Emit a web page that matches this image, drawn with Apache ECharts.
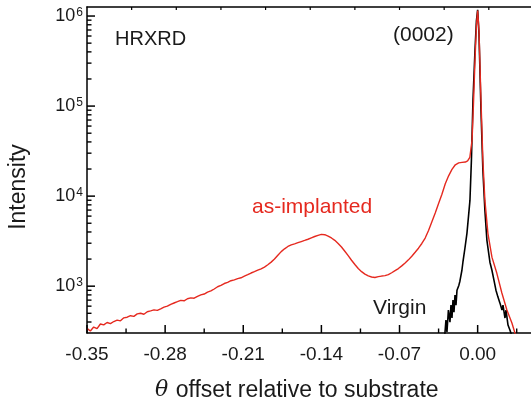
<!DOCTYPE html>
<html>
<head>
<meta charset="utf-8">
<script src="https://cdn.jsdelivr.net/npm/echarts@6/dist/echarts.min.js"></script>
<style>html,body{margin:0;padding:0;background:#fff;}#c{width:531px;height:407px;}</style>
</head>
<body>
<div id="c"></div>
<script>
// ---- data ----
const implantedX = [-0.350,-0.347,-0.344,-0.341,-0.338,-0.335,-0.332,-0.329,-0.326,-0.323,-0.320,-0.317,-0.314,-0.311,-0.308,-0.305,-0.302,-0.299,-0.296,-0.293,-0.290,-0.287,-0.284,-0.281,-0.278,-0.275,-0.272,-0.269,-0.266,-0.263,-0.260,-0.257,-0.254,-0.251,-0.248,-0.245,-0.242,-0.239,-0.236,-0.233,-0.230,-0.227,-0.224,-0.221,-0.218,-0.215,-0.212,-0.209,-0.206,-0.203,-0.200,-0.197,-0.194,-0.191,-0.188,-0.185,-0.182,-0.179,-0.176,-0.173,-0.170,-0.167,-0.164,-0.161,-0.158,-0.155,-0.152,-0.149,-0.146,-0.143,-0.140,-0.137,-0.134,-0.131,-0.128,-0.125,-0.122,-0.119,-0.116,-0.113,-0.110,-0.107,-0.104,-0.101,-0.098,-0.095,-0.092,-0.089,-0.086,-0.083,-0.080,-0.077,-0.074,-0.071,-0.068,-0.065,-0.062,-0.059,-0.056,-0.053,-0.050,-0.047,-0.044,-0.041,-0.038,-0.035,-0.032,-0.029,-0.026,-0.023,-0.020,-0.017,-0.014,-0.011,-0.009,-0.007,-0.005,-0.0038,-0.0024,-0.0011,0.0000,0.0012,0.0030,0.0047,0.0065,0.0092,0.0128,0.0172,0.0217,0.0262,0.0307,0.0334,0.0360];
const implantedY = [340,318,352,338,380,372,395,383,405,420,412,445,452,470,462,492,500,488,520,532,545,538,560,585,600,628,650,672,695,688,725,742,735,770,800,818,860,885,930,985,1020,1070,1100,1150,1175,1215,1240,1290,1340,1400,1450,1505,1560,1630,1730,1850,2000,2200,2420,2600,2760,2870,2950,3040,3130,3220,3320,3440,3560,3670,3760,3730,3600,3430,3230,2980,2720,2440,2180,1940,1740,1570,1450,1360,1300,1265,1250,1275,1295,1310,1345,1410,1490,1570,1680,1810,1960,2150,2380,2640,2980,3420,4150,5200,6500,8300,10500,13700,16800,19800,22300,23400,23700,23900,24600,27000,42000,101000,318000,776000,1150000,684000,114800,24800,8960,3860,2100,1390,840,543,390,302,250];

const virginX = [-0.0300,-0.0293,-0.0284,-0.0275,-0.0262,-0.0248,-0.0239,-0.0230,-0.0221,-0.0212,-0.0203,-0.0194,-0.0185,-0.0176,-0.0168,-0.0159,-0.0141,-0.0132,-0.0114,-0.0096,-0.0082,-0.0069,-0.0056,-0.0042,-0.0024,-0.0011,0.0000,0.0012,0.0030,0.0047,0.0065,0.0083,0.0110,0.0128,0.0146,0.0164,0.0182,0.0200,0.0218,0.0227,0.0245,0.0254,0.0272,0.0289,0.0307];
const virginY = [270,302,420,310,543,399,616,443,700,515,795,616,903,950,1026,1136,1503,1845,2637,3863,5960,8960,24800,114800,410000,883000,1170000,634000,88900,19300,6950,3230,1845,1503,1165,903,756,648,543,616,443,543,370,326,279];

const xTickLabels = ['-0.35','-0.28','-0.21','-0.14','-0.07','0.00'];
const xMajorTicks = [-0.35,-0.28,-0.21,-0.14,-0.07,0.00];
const xMinorTicks = [-0.315,-0.245,-0.175,-0.105,-0.035,0.035];
const topTicks = [-0.31,-0.27,-0.23,-0.19,-0.15,-0.11,-0.07,-0.03,0.01];
const yMajorTicks = [1000,10000,100000,1000000];
const yMinorTicks = [400,500,600,700,800,900,2000,3000,4000,5000,6000,7000,8000,9000,20000,30000,40000,50000,60000,70000,80000,90000,200000,300000,400000,500000,600000,700000,800000,900000];

const X_MIN = -0.35, X_MAX = 0.0478, Y_MIN = 302, Y_MAX = 1.26e6;
const FONT = "'Liberation Sans', Arial, Helvetica, sans-serif";

const chart = echarts.init(document.getElementById('c'), null, {renderer: 'canvas'});
const pairs = (xs, ys) => xs.map((x, i) => [x, ys[i]]);

// tick marks drawn through the axes' scales (api.coord)
function tickSeries(values, kind, len, width) {
  return {
    type: 'custom', silent: true, xAxisIndex: 0, yAxisIndex: 0, z: 5,
    data: values.map(v => kind === 'y' ? [X_MIN, v] : [v, kind === 'top' ? Y_MAX : Y_MIN]),
    renderItem: function (params, api) {
      const p = api.coord([api.value(0), api.value(1)]);
      let shape;
      if (kind === 'y') shape = {x1: p[0], y1: p[1], x2: p[0] + len, y2: p[1]};
      else if (kind === 'top') shape = {x1: p[0], y1: p[1], x2: p[0], y2: p[1] + len};
      else shape = {x1: p[0], y1: p[1], x2: p[0], y2: p[1] - len};
      return {type: 'line', shape: shape, style: {stroke: '#000', lineWidth: width}};
    }
  };
}

chart.setOption({
  animation: false,
  backgroundColor: '#fff',
  grid: {left: 87, right: 0, top: 7, bottom: 74},
  xAxis: [{
    type: 'value', min: X_MIN, max: X_MAX, interval: 0.07,
    axisLine: {show: true, onZero: false, lineStyle: {color: '#000', width: 1.5}},
    axisTick: {show: false},
    splitLine: {show: false},
    axisLabel: {
      color: '#1a1a1a', fontSize: 19, fontFamily: FONT, margin: 12,
      showMaxLabel: false,
      formatter: function (v) {
        const idx = Math.round((v - X_MIN) / 0.07);
        return Math.abs(v - (X_MIN + idx * 0.07)) < 1e-6 && xTickLabels[idx] !== undefined ? xTickLabels[idx] : '';
      }
    }
  }, {
    type: 'value', position: 'top', min: X_MIN, max: X_MAX,
    axisLine: {show: true, onZero: false, lineStyle: {color: '#000', width: 1.5}},
    axisTick: {show: false}, axisLabel: {show: false}, splitLine: {show: false}
  }],
  yAxis: {
    type: 'log', min: Y_MIN, max: Y_MAX,
    axisLine: {show: true, onZero: false, lineStyle: {color: '#000', width: 1.5}},
    axisTick: {show: false},
    splitLine: {show: false},
    axisLabel: {
      margin: 4, fontFamily: FONT,
      showMinLabel: false, showMaxLabel: false,
      formatter: function (v) {
        const e = Math.log10(v);
        if (Math.abs(e - Math.round(e)) > 1e-6) return '';
        return '{b|10}{s|' + Math.round(e) + '}';
      },
      rich: {
        b: {fontSize: 18, fontFamily: FONT, color: '#1a1a1a'},
        s: {fontSize: 12, fontFamily: FONT, color: '#1a1a1a', verticalAlign: 'top', padding: [0, 0, 0, 1]}
      }
    }
  },
  series: [
    tickSeries(xMajorTicks, 'x', 8, 1.5),
    tickSeries(xMinorTicks, 'x', 4.5, 1.4),
    tickSeries(topTicks, 'top', 3, 1.2),
    tickSeries(yMajorTicks, 'y', 8, 1.5),
    tickSeries(yMinorTicks, 'y', 4.5, 1.4),
    {
      type: 'line', name: 'Virgin', xAxisIndex: 0, data: pairs(virginX, virginY),
      showSymbol: false, symbol: 'none',
      lineStyle: {color: '#000', width: 1.6}, z: 3
    }, {
      type: 'line', name: 'as-implanted', xAxisIndex: 0, data: pairs(implantedX, implantedY),
      showSymbol: false, symbol: 'none',
      lineStyle: {color: '#e5291f', width: 1.4}, z: 4
    }
  ],
  graphic: [
    {type: 'text', left: 115, top: 29, style: {text: 'HRXRD', font: '20px ' + FONT, fill: '#1a1a1a'}},
    {type: 'text', left: 393, top: 25, style: {text: '(0002)', font: '21px ' + FONT, fill: '#1a1a1a'}},
    {type: 'text', left: 252, top: 197, style: {text: 'as-implanted', font: '21px ' + FONT, fill: '#e5291f'}},
    {type: 'text', left: 373, top: 298, style: {text: 'Virgin', font: '21px ' + FONT, fill: '#1a1a1a'}},
    {type: 'text', x: 30, y: 187, rotation: Math.PI / 2,
     style: {text: 'Intensity', font: '23px ' + FONT, fill: '#1a1a1a', align: 'center', verticalAlign: 'bottom'}},
    {type: 'text', left: 155, top: 379,
     style: {text: '{i|θ} offset relative to substrate', font: '23px ' + FONT, fill: '#1a1a1a',
       rich: {i: {fontStyle: 'italic', fontFamily: "'DejaVu Serif', serif", fontSize: 22, fill: '#1a1a1a', padding: [0, 1, 0, 0]}}}}
  ]
});
</script>
</body>
</html>
